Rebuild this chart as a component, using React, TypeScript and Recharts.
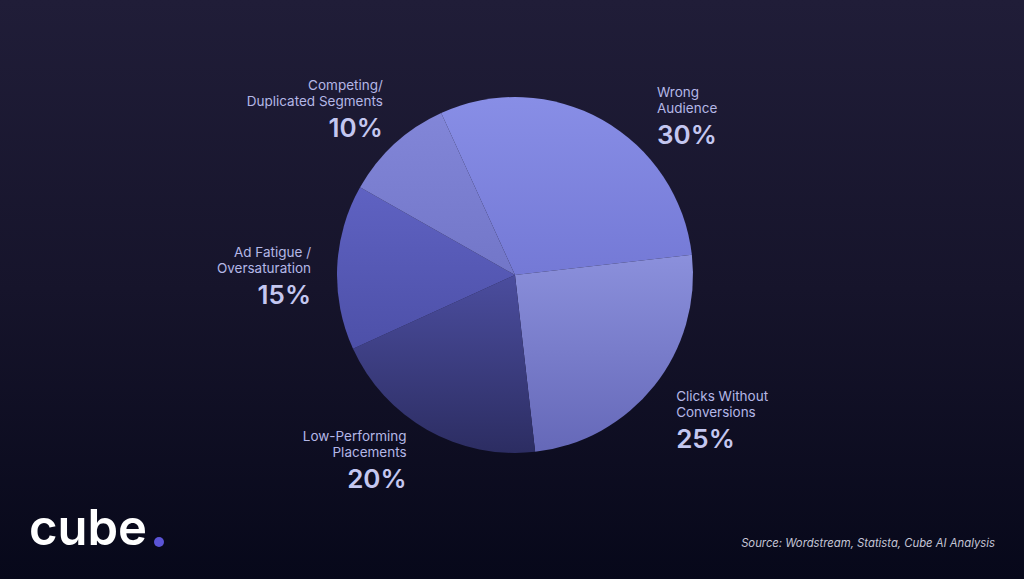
import { PieChart, Pie, Cell } from 'recharts';

const CATEGORIES = [
  'Wrong\nAudience',
  'Clicks Without\nConversions',
  'Low-Performing\nPlacements',
  'Ad Fatigue /\nOversaturation',
  'Competing/\nDuplicated Segments',
];
const SHARES = [30, 25, 20, 15, 10];

// slice shading, top -> bottom
const SLICE_TOP = ['#888ee6', '#8b90dc', '#4b4d9e', '#5f62c2', '#8286d8'];
const SLICE_BOTTOM = ['#7479d6', '#6568b8', '#2c2d62', '#4d50a8', '#7276c8'];

// label placement tweaks (clockwise degrees, px beyond the rim)
const LABEL_SHIFT = [12.2, 3.4, 0.8, -2.7, 4];
const LABEL_GAP = [35.5, 38.5, 36.8, 26, 34.3];

const RAD = Math.PI / 180;
const FONT = 'Inter, "Noto Sans", sans-serif';

const chartData = CATEGORIES.map((name, i) => ({ name, value: SHARES[i] }));

const SliceLabel = (props: any) => {
  const { cx, cy, midAngle, outerRadius, index, value } = props;
  const a = (midAngle - LABEL_SHIFT[index]) * RAD;
  const r = outerRadius + LABEL_GAP[index];
  const x = cx + r * Math.cos(a);
  const y = cy - r * Math.sin(a);
  const anchor = x > cx ? 'start' : 'end';
  const lines = CATEGORIES[index].split('\n');
  return (
    <g>
      {lines.map((line, j) => (
        <text
          key={j}
          x={x}
          y={y - 19 + j * 16}
          textAnchor={anchor}
          fill="#b4b7e6"
          fontSize={13.5}
          fontFamily={FONT}
        >
          {line}
        </text>
      ))}
      <text
        x={x}
        y={y + 28}
        textAnchor={anchor}
        fill="#c4c7f0"
        fontSize={26}
        fontWeight={600}
        fontFamily={FONT}
      >
        {value}%
      </text>
    </g>
  );
};

export default function App() {
  return (
    <div
      style={{
        position: 'absolute',
        left: 0,
        top: 0,
        width: 1024,
        height: 579,
        overflow: 'hidden',
        background: 'linear-gradient(180deg, #201d38 0%, #16142b 50%, #07081a 100%)',
        fontFamily: FONT,
      }}
    >
      <PieChart width={1024} height={579}>
        <defs>
          {SLICE_TOP.map((c, i) => (
            <linearGradient key={i} id={`slice${i}`} x1="0" y1="0" x2="0" y2="1">
              <stop offset="0%" stopColor={c} />
              <stop offset="100%" stopColor={SLICE_BOTTOM[i]} />
            </linearGradient>
          ))}
        </defs>
        <Pie
          data={chartData}
          dataKey="value"
          nameKey="name"
          cx={510}
          cy={270}
          outerRadius={178}
          startAngle={114.5}
          endAngle={-245.5}
          stroke="none"
          labelLine={false}
          label={SliceLabel}
          isAnimationActive={false}
        >
          {chartData.map((_, i) => (
            <Cell key={i} fill={`url(#slice${i})`} />
          ))}
        </Pie>
      </PieChart>
      <div
        style={{
          position: 'absolute',
          left: 29,
          top: 500,
          color: '#ffffff',
          fontSize: 49,
          fontWeight: 600,
          lineHeight: '56px',
        }}
      >
        cube
      </div>
      <div
        style={{
          position: 'absolute',
          left: 154,
          top: 537,
          width: 10,
          height: 10,
          borderRadius: 5,
          background: '#5b54d6',
        }}
      />
      <div
        style={{
          position: 'absolute',
          right: 29,
          top: 536,
          color: '#c4c5d6',
          fontSize: 11.3,
          fontStyle: 'italic',
        }}
      >
        Source: Wordstream, Statista, Cube AI Analysis
      </div>
    </div>
  );
}
